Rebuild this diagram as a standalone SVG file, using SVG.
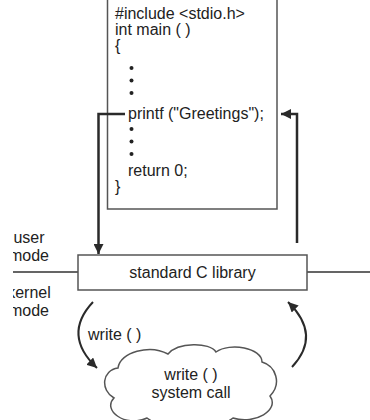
<svg xmlns="http://www.w3.org/2000/svg" width="370" height="420" viewBox="0 0 370 420">
<style>
text{font-family:"Liberation Sans",Arial,sans-serif;font-size:16px;fill:#222}
.box{fill:#fff;stroke:#555;stroke-width:1.5}
.conn{fill:none;stroke:#2a2a2a;stroke-width:2.5}
.arc{fill:none;stroke:#2a2a2a;stroke-width:2}
.line{fill:none;stroke:#333;stroke-width:1.5}
.dot{fill:#222}
</style>
<defs>
<marker id="ah" viewBox="0 0 10 10" refX="10" refY="5" markerWidth="4" markerHeight="4" orient="auto" markerUnits="strokeWidth">
<path d="M0,0 L10,5 L0,10 Z" fill="#2a2a2a"/>
</marker>
<marker id="ah2" viewBox="0 0 10 10" refX="10" refY="5" markerWidth="5" markerHeight="5" orient="auto" markerUnits="strokeWidth">
<path d="M0,0 L10,5 L0,10 Z" fill="#2a2a2a"/>
</marker>
<clipPath id="lc"><rect x="13" y="0" width="100" height="420"/></clipPath>
</defs>

<g id="mode-line">
<path class="line" d="M13,272 H78 M307,272 H370"/>
</g>

<g id="mode-labels" clip-path="url(#lc)">
<text x="29" y="243" text-anchor="middle">user</text>
<text x="29" y="261" text-anchor="middle">mode</text>
<text x="29" y="298" text-anchor="middle">kernel</text>
<text x="29" y="316" text-anchor="middle">mode</text>
</g>

<g id="program">
<path class="box" d="M107.5,0 V209 H277 V0"/>
<text x="115" y="18.5">#include &lt;stdio.h&gt;</text>
<text x="115" y="35">int main ( )</text>
<text x="115" y="51">{</text>
<circle class="dot" cx="131.5" cy="68" r="2"/>
<circle class="dot" cx="131.5" cy="80.5" r="2"/>
<circle class="dot" cx="131.5" cy="93" r="2"/>
<text x="128" y="119">printf ("Greetings");</text>
<circle class="dot" cx="131.5" cy="129" r="2"/>
<circle class="dot" cx="131.5" cy="141.5" r="2"/>
<circle class="dot" cx="131.5" cy="154" r="2"/>
<text x="128" y="175.5">return 0;</text>
<text x="115" y="191.5">}</text>
</g>

<g id="library">
<rect class="box" x="78" y="255" width="229" height="35"/>
<text x="192.5" y="278" text-anchor="middle">standard C library</text>
</g>

<g id="syscall">
<path class="box" stroke-width="1" d="M118,368 C120,352 150,344 168,354 C178,342 210,342 216,352 C230,342 262,348 262,362 C276,366 282,384 270,396 C280,410 255,425 233,418 C215,432 165,432 147,418 C125,428 102,410 114,398 C100,390 102,370 118,368 Z"/>
<text x="191" y="380" text-anchor="middle">write ( )</text>
<text x="191" y="397.5" text-anchor="middle">system call</text>
</g>

<g id="connectors">
<path class="conn" d="M125,114 H98.5 V254" marker-end="url(#ah)"/>
<path class="conn" d="M297,243 V114 H281" marker-end="url(#ah)"/>
<path class="arc" d="M93,302 Q62,335 97,368" marker-end="url(#ah2)"/>
<path class="arc" d="M292,367 Q322,335 288,302" marker-end="url(#ah2)"/>
<text x="88" y="340">write ( )</text>
</g>
</svg>
